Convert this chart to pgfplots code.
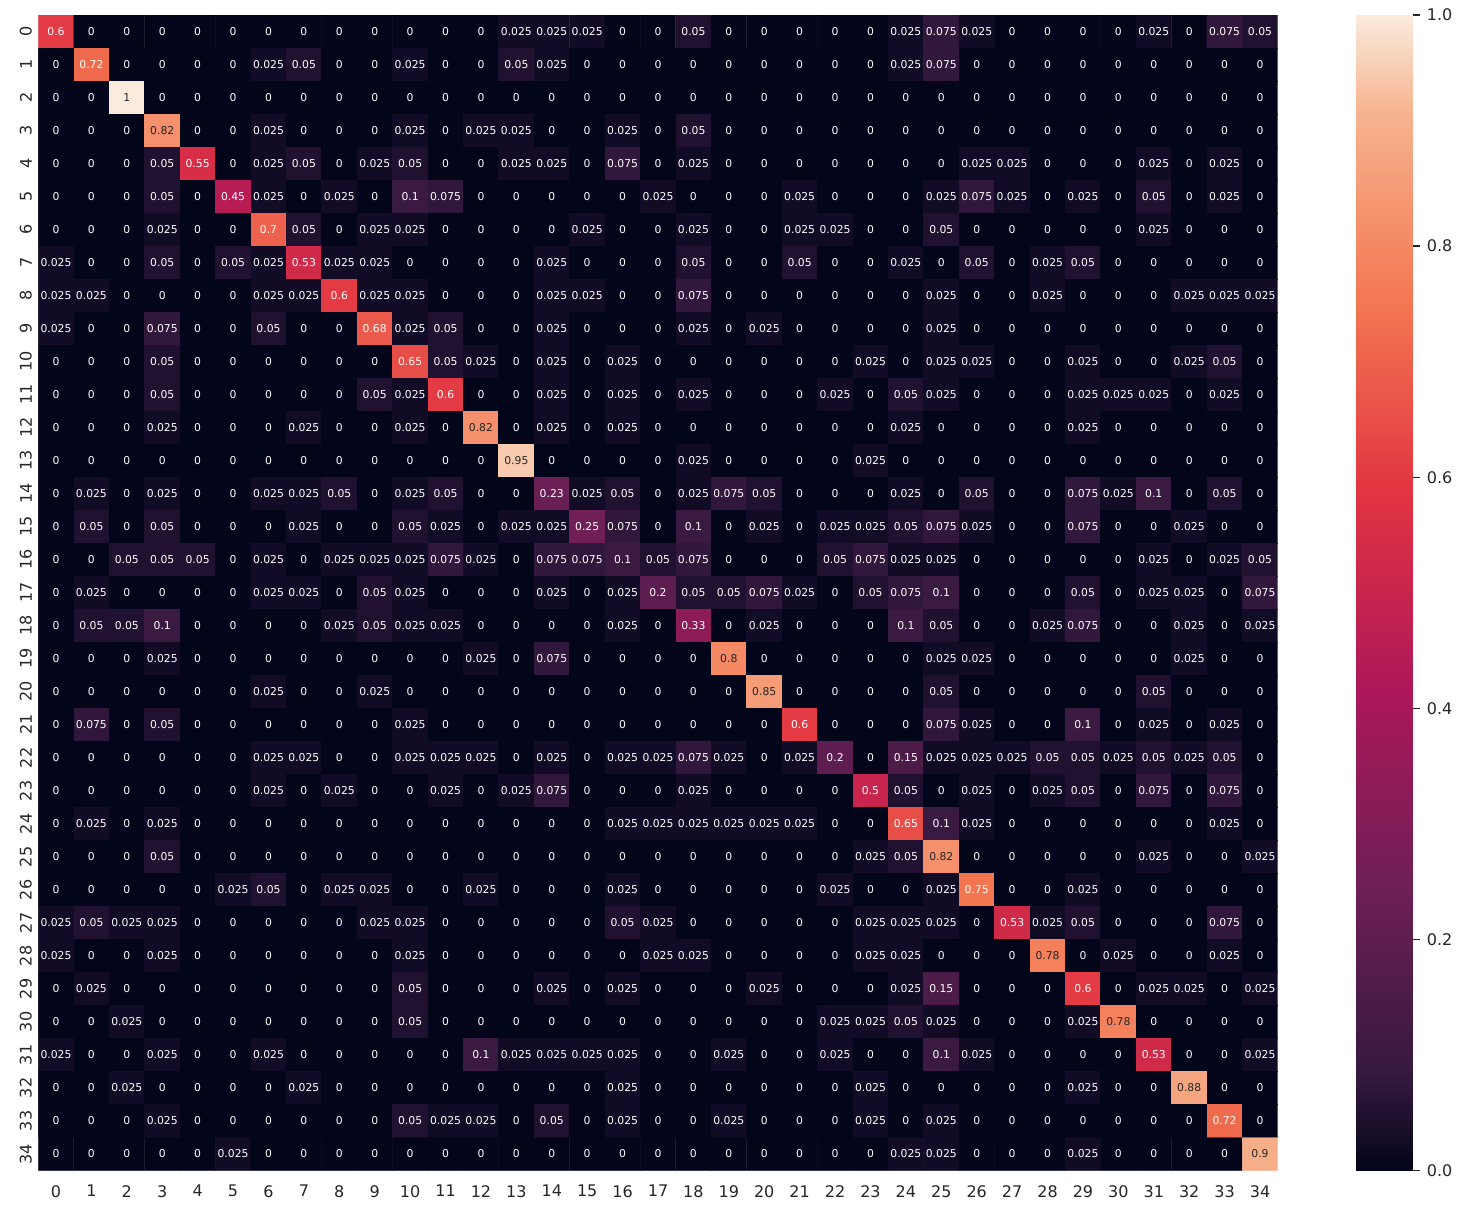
\documentclass[border=0pt]{standalone}
\usepackage{pgfplots}
\pgfplotsset{compat=1.18}
\usepackage{pgfplotstable}
\usepackage{fontspec}
\setmainfont{DejaVu Sans}

\definecolor{ink}{HTML}{262626}
\pgfkeys{/pgf/number format/assume math mode=true}

% seaborn "rocket"
\pgfplotsset{colormap={rocket}{
  rgb255(0pt)=(3,5,26) rgb255(83pt)=(53,25,62) rgb255(250pt)=(112,31,87)
  rgb255(417pt)=(173,23,89) rgb255(583pt)=(225,51,66) rgb255(750pt)=(243,118,81)
  rgb255(917pt)=(246,180,143) rgb255(1000pt)=(250,235,221)}}

% confusion matrix, one line per true class (rows 0..34), 35 columns each
\pgfplotstableread[row sep=\\]{v\\
0.6\\ 0\\ 0\\ 0\\ 0\\ 0\\ 0\\ 0\\ 0\\  0\\ 0\\ 0\\ 0\\ 0.025\\ 0.025\\ 0.025\\ 0\\ 0\\  0.05\\ 0\\ 0\\ 0\\ 0\\ 0\\ 0.025\\ 0.075\\ 0.025\\  0\\ 0\\ 0\\ 0\\ 0.025\\ 0\\ 0.075\\ 0.05\\
0\\ 0.72\\ 0\\ 0\\ 0\\ 0\\ 0.025\\ 0.05\\ 0\\  0\\ 0.025\\ 0\\ 0\\ 0.05\\ 0.025\\ 0\\ 0\\ 0\\  0\\ 0\\ 0\\ 0\\ 0\\ 0\\ 0.025\\ 0.075\\ 0\\  0\\ 0\\ 0\\ 0\\ 0\\ 0\\ 0\\ 0\\
0\\ 0\\ 1\\ 0\\ 0\\ 0\\ 0\\ 0\\ 0\\  0\\ 0\\ 0\\ 0\\ 0\\ 0\\ 0\\ 0\\ 0\\  0\\ 0\\ 0\\ 0\\ 0\\ 0\\ 0\\ 0\\ 0\\  0\\ 0\\ 0\\ 0\\ 0\\ 0\\ 0\\ 0\\
0\\ 0\\ 0\\ 0.82\\ 0\\ 0\\ 0.025\\ 0\\ 0\\  0\\ 0.025\\ 0\\ 0.025\\ 0.025\\ 0\\ 0\\ 0.025\\ 0\\  0.05\\ 0\\ 0\\ 0\\ 0\\ 0\\ 0\\ 0\\ 0\\  0\\ 0\\ 0\\ 0\\ 0\\ 0\\ 0\\ 0\\
0\\ 0\\ 0\\ 0.05\\ 0.55\\ 0\\ 0.025\\ 0.05\\ 0\\  0.025\\ 0.05\\ 0\\ 0\\ 0.025\\ 0.025\\ 0\\ 0.075\\ 0\\  0.025\\ 0\\ 0\\ 0\\ 0\\ 0\\ 0\\ 0\\ 0.025\\  0.025\\ 0\\ 0\\ 0\\ 0.025\\ 0\\ 0.025\\ 0\\
0\\ 0\\ 0\\ 0.05\\ 0\\ 0.45\\ 0.025\\ 0\\ 0.025\\  0\\ 0.1\\ 0.075\\ 0\\ 0\\ 0\\ 0\\ 0\\ 0.025\\  0\\ 0\\ 0\\ 0.025\\ 0\\ 0\\ 0\\ 0.025\\ 0.075\\  0.025\\ 0\\ 0.025\\ 0\\ 0.05\\ 0\\ 0.025\\ 0\\
0\\ 0\\ 0\\ 0.025\\ 0\\ 0\\ 0.7\\ 0.05\\ 0\\  0.025\\ 0.025\\ 0\\ 0\\ 0\\ 0\\ 0.025\\ 0\\ 0\\  0.025\\ 0\\ 0\\ 0.025\\ 0.025\\ 0\\ 0\\ 0.05\\ 0\\  0\\ 0\\ 0\\ 0\\ 0.025\\ 0\\ 0\\ 0\\
0.025\\ 0\\ 0\\ 0.05\\ 0\\ 0.05\\ 0.025\\ 0.53\\ 0.025\\  0.025\\ 0\\ 0\\ 0\\ 0\\ 0.025\\ 0\\ 0\\ 0\\  0.05\\ 0\\ 0\\ 0.05\\ 0\\ 0\\ 0.025\\ 0\\ 0.05\\  0\\ 0.025\\ 0.05\\ 0\\ 0\\ 0\\ 0\\ 0\\
0.025\\ 0.025\\ 0\\ 0\\ 0\\ 0\\ 0.025\\ 0.025\\ 0.6\\  0.025\\ 0.025\\ 0\\ 0\\ 0\\ 0.025\\ 0.025\\ 0\\ 0\\  0.075\\ 0\\ 0\\ 0\\ 0\\ 0\\ 0\\ 0.025\\ 0\\  0\\ 0.025\\ 0\\ 0\\ 0\\ 0.025\\ 0.025\\ 0.025\\
0.025\\ 0\\ 0\\ 0.075\\ 0\\ 0\\ 0.05\\ 0\\ 0\\  0.68\\ 0.025\\ 0.05\\ 0\\ 0\\ 0.025\\ 0\\ 0\\ 0\\  0.025\\ 0\\ 0.025\\ 0\\ 0\\ 0\\ 0\\ 0.025\\ 0\\  0\\ 0\\ 0\\ 0\\ 0\\ 0\\ 0\\ 0\\
0\\ 0\\ 0\\ 0.05\\ 0\\ 0\\ 0\\ 0\\ 0\\  0\\ 0.65\\ 0.05\\ 0.025\\ 0\\ 0.025\\ 0\\ 0.025\\ 0\\  0\\ 0\\ 0\\ 0\\ 0\\ 0.025\\ 0\\ 0.025\\ 0.025\\  0\\ 0\\ 0.025\\ 0\\ 0\\ 0.025\\ 0.05\\ 0\\
0\\ 0\\ 0\\ 0.05\\ 0\\ 0\\ 0\\ 0\\ 0\\  0.05\\ 0.025\\ 0.6\\ 0\\ 0\\ 0.025\\ 0\\ 0.025\\ 0\\  0.025\\ 0\\ 0\\ 0\\ 0.025\\ 0\\ 0.05\\ 0.025\\ 0\\  0\\ 0\\ 0.025\\ 0.025\\ 0.025\\ 0\\ 0.025\\ 0\\
0\\ 0\\ 0\\ 0.025\\ 0\\ 0\\ 0\\ 0.025\\ 0\\  0\\ 0.025\\ 0\\ 0.82\\ 0\\ 0.025\\ 0\\ 0.025\\ 0\\  0\\ 0\\ 0\\ 0\\ 0\\ 0\\ 0.025\\ 0\\ 0\\  0\\ 0\\ 0.025\\ 0\\ 0\\ 0\\ 0\\ 0\\
0\\ 0\\ 0\\ 0\\ 0\\ 0\\ 0\\ 0\\ 0\\  0\\ 0\\ 0\\ 0\\ 0.95\\ 0\\ 0\\ 0\\ 0\\  0.025\\ 0\\ 0\\ 0\\ 0\\ 0.025\\ 0\\ 0\\ 0\\  0\\ 0\\ 0\\ 0\\ 0\\ 0\\ 0\\ 0\\
0\\ 0.025\\ 0\\ 0.025\\ 0\\ 0\\ 0.025\\ 0.025\\ 0.05\\  0\\ 0.025\\ 0.05\\ 0\\ 0\\ 0.23\\ 0.025\\ 0.05\\ 0\\  0.025\\ 0.075\\ 0.05\\ 0\\ 0\\ 0\\ 0.025\\ 0\\ 0.05\\  0\\ 0\\ 0.075\\ 0.025\\ 0.1\\ 0\\ 0.05\\ 0\\
0\\ 0.05\\ 0\\ 0.05\\ 0\\ 0\\ 0\\ 0.025\\ 0\\  0\\ 0.05\\ 0.025\\ 0\\ 0.025\\ 0.025\\ 0.25\\ 0.075\\ 0\\  0.1\\ 0\\ 0.025\\ 0\\ 0.025\\ 0.025\\ 0.05\\ 0.075\\ 0.025\\  0\\ 0\\ 0.075\\ 0\\ 0\\ 0.025\\ 0\\ 0\\
0\\ 0\\ 0.05\\ 0.05\\ 0.05\\ 0\\ 0.025\\ 0\\ 0.025\\  0.025\\ 0.025\\ 0.075\\ 0.025\\ 0\\ 0.075\\ 0.075\\ 0.1\\ 0.05\\  0.075\\ 0\\ 0\\ 0\\ 0.05\\ 0.075\\ 0.025\\ 0.025\\ 0\\  0\\ 0\\ 0\\ 0\\ 0.025\\ 0\\ 0.025\\ 0.05\\
0\\ 0.025\\ 0\\ 0\\ 0\\ 0\\ 0.025\\ 0.025\\ 0\\  0.05\\ 0.025\\ 0\\ 0\\ 0\\ 0.025\\ 0\\ 0.025\\ 0.2\\  0.05\\ 0.05\\ 0.075\\ 0.025\\ 0\\ 0.05\\ 0.075\\ 0.1\\ 0\\  0\\ 0\\ 0.05\\ 0\\ 0.025\\ 0.025\\ 0\\ 0.075\\
0\\ 0.05\\ 0.05\\ 0.1\\ 0\\ 0\\ 0\\ 0\\ 0.025\\  0.05\\ 0.025\\ 0.025\\ 0\\ 0\\ 0\\ 0\\ 0.025\\ 0\\  0.33\\ 0\\ 0.025\\ 0\\ 0\\ 0\\ 0.1\\ 0.05\\ 0\\  0\\ 0.025\\ 0.075\\ 0\\ 0\\ 0.025\\ 0\\ 0.025\\
0\\ 0\\ 0\\ 0.025\\ 0\\ 0\\ 0\\ 0\\ 0\\  0\\ 0\\ 0\\ 0.025\\ 0\\ 0.075\\ 0\\ 0\\ 0\\  0\\ 0.8\\ 0\\ 0\\ 0\\ 0\\ 0\\ 0.025\\ 0.025\\  0\\ 0\\ 0\\ 0\\ 0\\ 0.025\\ 0\\ 0\\
0\\ 0\\ 0\\ 0\\ 0\\ 0\\ 0.025\\ 0\\ 0\\  0.025\\ 0\\ 0\\ 0\\ 0\\ 0\\ 0\\ 0\\ 0\\  0\\ 0\\ 0.85\\ 0\\ 0\\ 0\\ 0\\ 0.05\\ 0\\  0\\ 0\\ 0\\ 0\\ 0.05\\ 0\\ 0\\ 0\\
0\\ 0.075\\ 0\\ 0.05\\ 0\\ 0\\ 0\\ 0\\ 0\\  0\\ 0.025\\ 0\\ 0\\ 0\\ 0\\ 0\\ 0\\ 0\\  0\\ 0\\ 0\\ 0.6\\ 0\\ 0\\ 0\\ 0.075\\ 0.025\\  0\\ 0\\ 0.1\\ 0\\ 0.025\\ 0\\ 0.025\\ 0\\
0\\ 0\\ 0\\ 0\\ 0\\ 0\\ 0.025\\ 0.025\\ 0\\  0\\ 0.025\\ 0.025\\ 0.025\\ 0\\ 0.025\\ 0\\ 0.025\\ 0.025\\  0.075\\ 0.025\\ 0\\ 0.025\\ 0.2\\ 0\\ 0.15\\ 0.025\\ 0.025\\  0.025\\ 0.05\\ 0.05\\ 0.025\\ 0.05\\ 0.025\\ 0.05\\ 0\\
0\\ 0\\ 0\\ 0\\ 0\\ 0\\ 0.025\\ 0\\ 0.025\\  0\\ 0\\ 0.025\\ 0\\ 0.025\\ 0.075\\ 0\\ 0\\ 0\\  0.025\\ 0\\ 0\\ 0\\ 0\\ 0.5\\ 0.05\\ 0\\ 0.025\\  0\\ 0.025\\ 0.05\\ 0\\ 0.075\\ 0\\ 0.075\\ 0\\
0\\ 0.025\\ 0\\ 0.025\\ 0\\ 0\\ 0\\ 0\\ 0\\  0\\ 0\\ 0\\ 0\\ 0\\ 0\\ 0\\ 0.025\\ 0.025\\  0.025\\ 0.025\\ 0.025\\ 0.025\\ 0\\ 0\\ 0.65\\ 0.1\\ 0.025\\  0\\ 0\\ 0\\ 0\\ 0\\ 0\\ 0.025\\ 0\\
0\\ 0\\ 0\\ 0.05\\ 0\\ 0\\ 0\\ 0\\ 0\\  0\\ 0\\ 0\\ 0\\ 0\\ 0\\ 0\\ 0\\ 0\\  0\\ 0\\ 0\\ 0\\ 0\\ 0.025\\ 0.05\\ 0.82\\ 0\\  0\\ 0\\ 0\\ 0\\ 0.025\\ 0\\ 0\\ 0.025\\
0\\ 0\\ 0\\ 0\\ 0\\ 0.025\\ 0.05\\ 0\\ 0.025\\  0.025\\ 0\\ 0\\ 0.025\\ 0\\ 0\\ 0\\ 0.025\\ 0\\  0\\ 0\\ 0\\ 0\\ 0.025\\ 0\\ 0\\ 0.025\\ 0.75\\  0\\ 0\\ 0.025\\ 0\\ 0\\ 0\\ 0\\ 0\\
0.025\\ 0.05\\ 0.025\\ 0.025\\ 0\\ 0\\ 0\\ 0\\ 0\\  0.025\\ 0.025\\ 0\\ 0\\ 0\\ 0\\ 0\\ 0.05\\ 0.025\\  0\\ 0\\ 0\\ 0\\ 0\\ 0.025\\ 0.025\\ 0.025\\ 0\\  0.53\\ 0.025\\ 0.05\\ 0\\ 0\\ 0\\ 0.075\\ 0\\
0.025\\ 0\\ 0\\ 0.025\\ 0\\ 0\\ 0\\ 0\\ 0\\  0\\ 0.025\\ 0\\ 0\\ 0\\ 0\\ 0\\ 0\\ 0.025\\  0.025\\ 0\\ 0\\ 0\\ 0\\ 0.025\\ 0.025\\ 0\\ 0\\  0\\ 0.78\\ 0\\ 0.025\\ 0\\ 0\\ 0.025\\ 0\\
0\\ 0.025\\ 0\\ 0\\ 0\\ 0\\ 0\\ 0\\ 0\\  0\\ 0.05\\ 0\\ 0\\ 0\\ 0.025\\ 0\\ 0.025\\ 0\\  0\\ 0\\ 0.025\\ 0\\ 0\\ 0\\ 0.025\\ 0.15\\ 0\\  0\\ 0\\ 0.6\\ 0\\ 0.025\\ 0.025\\ 0\\ 0.025\\
0\\ 0\\ 0.025\\ 0\\ 0\\ 0\\ 0\\ 0\\ 0\\  0\\ 0.05\\ 0\\ 0\\ 0\\ 0\\ 0\\ 0\\ 0\\  0\\ 0\\ 0\\ 0\\ 0.025\\ 0.025\\ 0.05\\ 0.025\\ 0\\  0\\ 0\\ 0.025\\ 0.78\\ 0\\ 0\\ 0\\ 0\\
0.025\\ 0\\ 0\\ 0.025\\ 0\\ 0\\ 0.025\\ 0\\ 0\\  0\\ 0\\ 0\\ 0.1\\ 0.025\\ 0.025\\ 0.025\\ 0.025\\ 0\\  0\\ 0.025\\ 0\\ 0\\ 0.025\\ 0\\ 0\\ 0.1\\ 0.025\\  0\\ 0\\ 0\\ 0\\ 0.53\\ 0\\ 0\\ 0.025\\
0\\ 0\\ 0.025\\ 0\\ 0\\ 0\\ 0\\ 0.025\\ 0\\  0\\ 0\\ 0\\ 0\\ 0\\ 0\\ 0\\ 0.025\\ 0\\  0\\ 0\\ 0\\ 0\\ 0\\ 0.025\\ 0\\ 0\\ 0\\  0\\ 0\\ 0.025\\ 0\\ 0\\ 0.88\\ 0\\ 0\\
0\\ 0\\ 0\\ 0.025\\ 0\\ 0\\ 0\\ 0\\ 0\\  0\\ 0.05\\ 0.025\\ 0.025\\ 0\\ 0.05\\ 0\\ 0.025\\ 0\\  0\\ 0.025\\ 0\\ 0\\ 0\\ 0.025\\ 0\\ 0.025\\ 0\\  0\\ 0\\ 0\\ 0\\ 0\\ 0\\ 0.72\\ 0\\
0\\ 0\\ 0\\ 0\\ 0\\ 0.025\\ 0\\ 0\\ 0\\  0\\ 0\\ 0\\ 0\\ 0\\ 0\\ 0\\ 0\\ 0\\  0\\ 0\\ 0\\ 0\\ 0\\ 0\\ 0.025\\ 0.025\\ 0\\  0\\ 0\\ 0.025\\ 0\\ 0\\ 0\\ 0\\ 0.9\\
}\cm

\begin{document}
\begin{tikzpicture}
\begin{axis}[
    scale only axis, width=1239.4pt, height=1155.5pt,
    xmin=-0.5, xmax=34.5, ymin=-0.5, ymax=34.5, y dir=reverse,
    xtick={0,...,34}, ytick={0,...,34},
    major tick length=0pt,
    axis line style={draw=none},
    tick label style={font=\fontsize{16}{19}\selectfont, text=ink},
    xticklabel style={anchor=north, inner sep=0pt, yshift=-14.5pt},
    yticklabel style={xshift=-6.3pt, rotate=90, anchor=south, inner sep=0pt},
    colormap name=rocket,
    point meta min=0, point meta max=1,
]
\addplot[matrix plot*, mesh/cols=35, point meta=explicit]
    table[x index=0, y index=0,
          x expr={\coordindex-35*floor((\coordindex+0.5)/35)},
          y expr={floor((\coordindex+0.5)/35)}, meta=v] {\cm};

\addplot[only marks, mark=*, mark size=0pt, mark options={draw=none, fill=none},
    point meta=explicit symbolic,
    nodes near coords={\ifdim\pgfplotspointmeta pt>0.765pt\color{ink}\fi\pgfplotspointmeta},
    every node near coord/.append style={anchor=center, text=white,
        font=\fontsize{10.8}{12}\selectfont}]
    table[x index=0, y index=0,
          x expr={\coordindex-35*floor((\coordindex+0.5)/35)},
          y expr={floor((\coordindex+0.5)/35)}, meta=v] {\cm};

\coordinate (tl) at (axis cs:-0.5,-0.5);
\coordinate (br) at (axis cs:34.5,34.5);
\end{axis}

% colour bar as its own axis
\begin{axis}[
    at={(br)}, anchor=south west, xshift=78.3pt,
    scale only axis, width=56.7pt, height=1155.5pt,
    xmin=0, xmax=1, ymin=0, ymax=1,
    xtick=\empty, ytick={0,0.2,0.4,0.6,0.8,1},
    axis line style={draw=none},
    ytick pos=right, yticklabel pos=right,
    major tick length=7pt, tick align=outside,
    ytick style={draw=ink, line width=1.25pt},
    tick label style={font=\fontsize{16}{19}\selectfont, text=ink},
    yticklabel style={/pgf/number format/.cd, fixed, fixed zerofill, precision=1,
                      /tikz/.cd, anchor=west, inner sep=0pt, xshift=7pt},
    colormap name=rocket,
    point meta min=0, point meta max=1,
]
\addplot[surf, shader=interp, mesh/cols=2, point meta=y] table {
x y
0 0
1 0
0 0.1
1 0.1
0 0.2
1 0.2
0 0.3
1 0.3
0 0.4
1 0.4
0 0.5
1 0.5
0 0.6
1 0.6
0 0.7
1 0.7
0 0.8
1 0.8
0 0.9
1 0.9
0 1
1 1
};
\end{axis}
\pgfresetboundingbox
\path[use as bounding box] ([shift={(-38.3pt,15pt)}]tl) rectangle ([shift={(182.3pt,-38.5pt)}]br);
\end{tikzpicture}
\end{document}
